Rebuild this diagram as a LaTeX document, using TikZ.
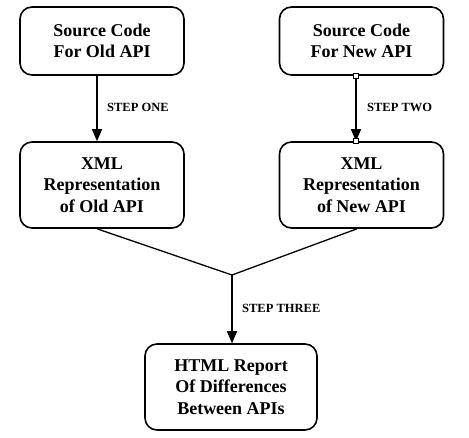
\documentclass[tikz,border=0pt]{standalone}
\usepackage{fontspec}
\setmainfont{Liberation Serif}
\newfontfamily\boxfont[BoldFont={Liberation Serif Bold}]{Liberation Serif}
\usetikzlibrary{arrows.meta,positioning,calc}

\begin{document}
\begin{tikzpicture}[
    x=1pt, y=-1pt,
    box/.style={rectangle, draw, rounded corners=12pt, minimum width=164pt,
                align=center, font=\boxfont\fontsize{18}{21.5}\selectfont\bfseries,
                line width=1.6pt, inner sep=0pt},
    steplbl/.style={font=\boxfont\fontsize{12.5}{14}\selectfont\bfseries,
                anchor=west, inner sep=0pt},
    arr/.style={-{Triangle[length=12pt, width=10pt]}, line width=1.3pt},
    handle/.style={rectangle, draw, fill=white, line width=0.8pt,
                minimum size=5pt, inner sep=0pt}
  ]

  % ---- Frame ----
  \useasboundingbox[fill=white] (0,0) rectangle (469,437);

  % ---- Source boxes ----
  \node[box, minimum height=68pt] (oldsrc) at (102,41)
    {Source Code\\For Old API};
  \node[box, minimum height=68pt] (newsrc) at (361.5,41)
    {Source Code\\For New API};

  % ---- XML boxes ----
  \node[box, minimum height=86pt] (oldxml) at (102,185)
    {XML\\Representation\\of Old API};
  \node[box, minimum height=86pt] (newxml) at (361.5,185)
    {XML\\Representation\\of New API};

  % ---- Report box ----
  \node[box, minimum width=172pt, minimum height=86pt] (report) at (231,387)
    {HTML Report\\Of Differences\\Between APIs};

  % ---- Step one / two ----
  \draw[arr] ([xshift=-5pt]oldsrc.south) -- ([xshift=-5pt]oldxml.north);
  \node[steplbl] (stepone) at (107,107) {STEP ONE};
  \draw[arr] ([xshift=-5.5pt]newsrc.south) -- ([xshift=-5.5pt]newxml.north);
  \node[steplbl] (steptwo) at (367,107) {STEP TWO};
  \node[handle] (htop) at ([xshift=-5.5pt]newsrc.south) {};
  \node[handle] (hbot) at ([xshift=-5.5pt]newxml.north) {};

  % ---- Step three ----
  \coordinate (join) at (232,275);
  \draw[line width=1.3pt] ([xshift=-5pt]oldxml.south) -- (join)
    -- ([xshift=-4.5pt]newxml.south);
  \draw[arr] (join) -- (join |- report.north);
  \node[steplbl] (stepthree) at (242,308) {STEP THREE};

\end{tikzpicture}
\end{document}
